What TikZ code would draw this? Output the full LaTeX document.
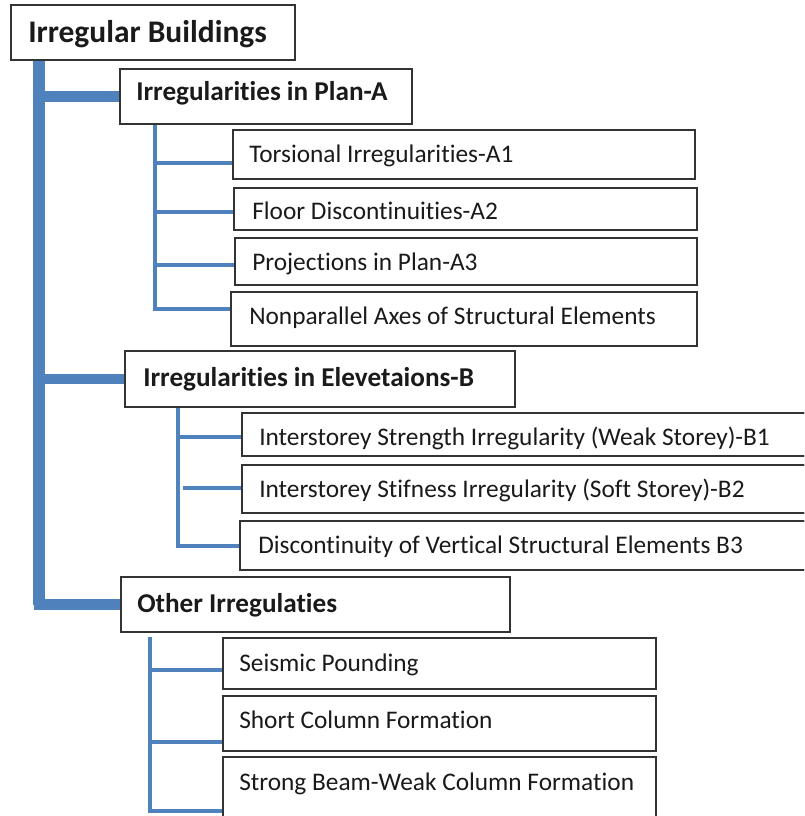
\documentclass[tikz,border=0pt]{standalone}
\usepackage{fontspec}
\setmainfont{Carlito}[Ligatures=NoCommon, RawFeature={-calt}]
\newcommand{\tI}{t\kern0pt i}
\definecolor{tblue}{HTML}{4F81BD}
\definecolor{tline}{HTML}{333333}
\definecolor{ttext}{HTML}{1A1A1A}
\tikzset{
  box/.style={draw=tline, line width=1.1pt, fill=white, inner sep=0pt, outer sep=0pt},
  roottxt/.style={text=ttext, inner sep=0pt, font=\fontsize{23.6}{28}\selectfont\bfseries},
  headtxt/.style={text=ttext, inner sep=0pt, font=\fontsize{20.4}{24}\selectfont\bfseries},
  subtxt/.style={text=ttext, inner sep=0pt, font=\fontsize{19}{23}\selectfont},
  trunkline/.style={draw=tblue, line width=9pt},
  mainline/.style={draw=tblue, line width=8pt},
  subline/.style={draw=tblue, line width=3.6pt}
}
\newcommand{\bx}[5]{\node[box, anchor=north west, minimum width={(#4-#2)*0.75pt}, minimum height={(#5-#3)*0.75pt}] (#1) at (#2,#3) {};}
\begin{document}
\begin{tikzpicture}[x=0.75pt,y=-0.75pt]
\clip (0,0) rectangle (804,816);
\fill[white] (0,0) rectangle (804,816);
% trunk coordinates
\coordinate (t0) at (39,60);
\coordinate (pa) at (155,124);
\coordinate (pa1) at (155,163);
\coordinate (pa2) at (155,212);
\coordinate (pa3) at (155,265);
\coordinate (pa4) at (155,309);
\coordinate (eb) at (178,407);
\coordinate (eb1) at (179,437);
\coordinate (eb2) at (183,488);
\coordinate (eb3) at (178,546);
\coordinate (oc) at (150,637);
\coordinate (oc1) at (150,670);
\coordinate (oc2) at (150,742);
\coordinate (oc3) at (150,811);
% boxes
\bx{root}{11}{5}{295}{60}
\bx{planA}{120}{69}{412}{124}
\bx{A1}{233}{130}{695}{179}
\bx{A2}{234}{188}{697}{230}
\bx{A3}{235}{238}{697}{285}
\bx{A4}{231}{292}{697}{346}
\bx{elev}{125}{351}{515}{407}
\bx{B1}{242}{413}{830}{456}
\bx{B2}{242}{465}{830}{513}
\bx{B3}{240}{521}{830}{570}
\bx{other}{121}{577}{510}{632}
\bx{C1}{223}{638}{656}{689}
\bx{C2}{223}{696}{656}{751}
\bx{C3}{223}{757}{656}{840}
% connectors
\path[trunkline] (t0) -- (t0 |- other.west);
\path[mainline] (t0) |- (planA.west);
\path[mainline] (t0) |- (elev.west);
\path[mainline] (t0) |- (other.west);
\path[subline] (pa) |- (pa4 -| A4.west);
\path[subline] (pa1) -- (pa1 -| A1.west);
\path[subline] (pa2) -- (pa2 -| A2.west);
\path[subline] (pa3) -- (pa3 -| A3.west);
\path[subline] (eb) |- (eb3 -| B3.west);
\path[subline] (eb1) -- (eb1 -| B1.west);
\path[subline] (eb2) -- (eb2 -| B2.west);
\path[subline] (oc) |- (oc3 -| C3.west);
\path[subline] (oc1) -- (oc1 -| C1.west);
\path[subline] (oc2) -- (oc2 -| C2.west);
% redraw box borders over lines
\foreach \n in {root,planA,A1,A2,A3,A4,elev,B1,B2,B3,other,C1,C2,C3}{\draw[tline, line width=1.1pt] (\n.north west) rectangle (\n.south east);}
% texts
\node[roottxt, anchor=base west] (roott) at (28,43) {Irregular Buildings};
\node[headtxt, anchor=base west] (planAt) at (136,101) {Irregulari\tI es in Plan-A};
\node[subtxt, anchor=base west] (A1t) at (249,163) {Torsional Irregulari\tI es-A1};
\node[subtxt, anchor=base west] (A2t) at (252,220) {Floor Discon\tI nui\tI es-A2};
\node[subtxt, anchor=base west] (A3t) at (252,271) {Projec\tI ons in Plan-A3};
\node[subtxt, anchor=base west] (A4t) at (249,324) {Nonparallel Axes of Structural Elements};
\node[headtxt, anchor=base west] (elevt) at (143,386) {Irregulari\tI es in Elevetaions-B};
\node[subtxt, anchor=base west] (B1t) at (259,445) {Interstorey Strength Irregularity (Weak Storey)-B1};
\node[subtxt, anchor=base west] (B2t) at (259,497) {Interstorey S\tI fness Irregularity (Soft Storey)-B2};
\node[subtxt, anchor=base west] (B3t) at (258,553) {Discon\tI nuity of Ver\tI cal Structural Elements B3};
\node[headtxt, anchor=base west] (othert) at (137,612) {Other Irregula\tI es};
\node[subtxt, anchor=base west] (C1t) at (239,671) {Seismic Pounding};
\node[subtxt, anchor=base west] (C2t) at (239,728) {Short Column Forma\tI on};
\node[subtxt, anchor=base west] (C3t) at (239,790) {Strong Beam-Weak Column Forma\tI on};
\end{tikzpicture}
\end{document}
